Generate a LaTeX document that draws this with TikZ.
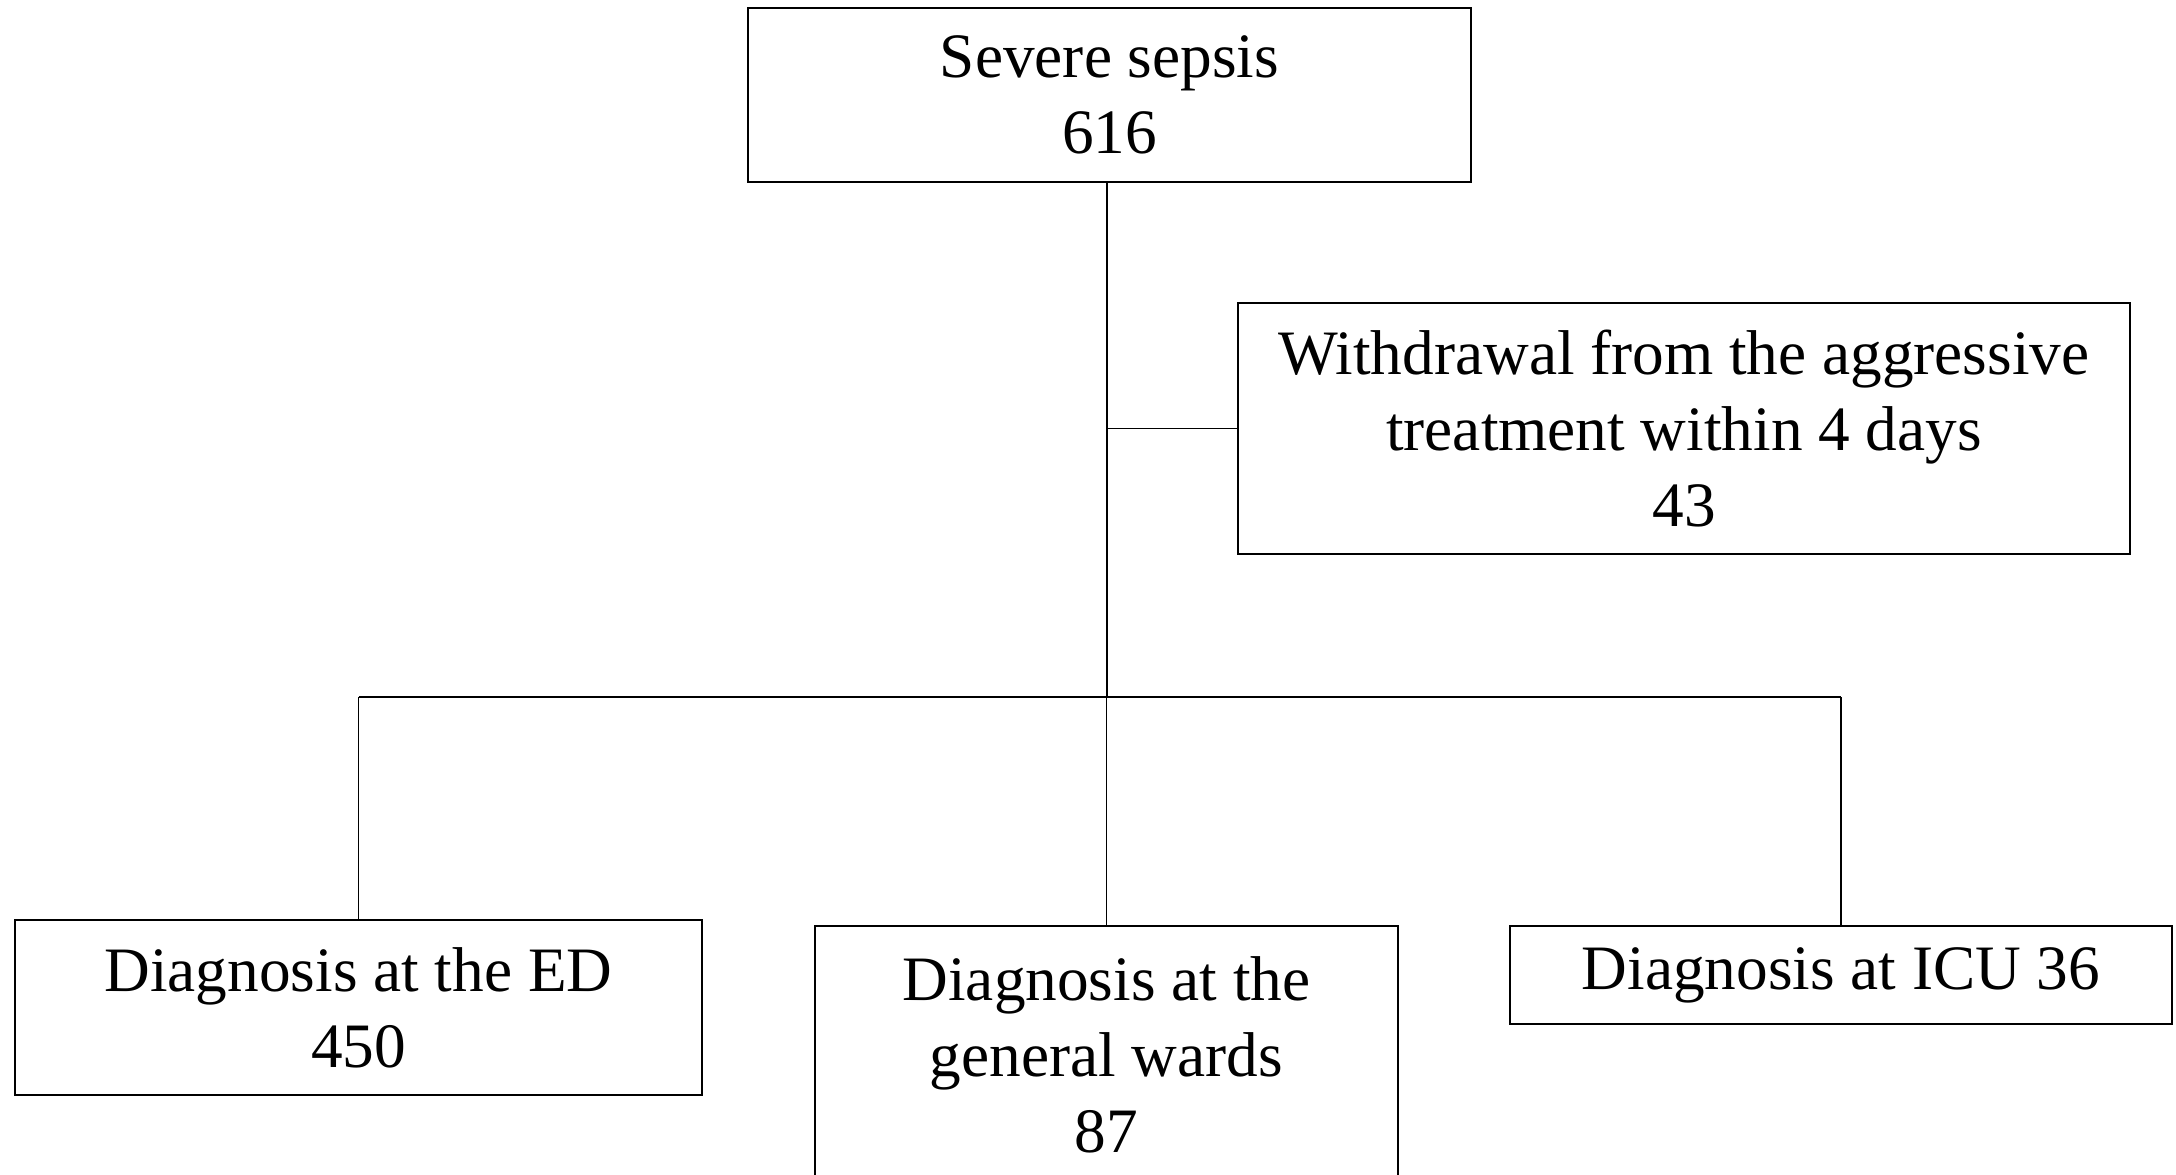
\documentclass[tikz,border=0pt]{standalone}
\usepackage{fontspec}
\setmainfont{Liberation Serif}
\usepackage{tikz}
\usetikzlibrary{positioning,calc}
\tikzset{
  stage/.style={draw=black, line width=0.6pt, inner sep=0pt, align=center,
                font=\fontsize{18}{21.7}\selectfont},
  link/.style={draw=black, line width=0.45pt}
}
\begin{document}
\begin{tikzpicture}
    \useasboundingbox (0,0) rectangle (21.76,-11.75);
    \node[stage,minimum width=7.23cm,minimum height=1.74cm] (sepsis) at (11.095,-0.95)
      {Severe sepsis\\616};
    \node[stage,minimum width=8.92cm,minimum height=2.51cm] (withdraw) at (16.84,-4.285)
      {Withdrawal from the aggressive\\treatment within 4 days\\43};
    \node[stage,minimum width=6.87cm,minimum height=1.75cm] (ed) at (3.585,-10.075)
      {Diagnosis at the ED\\450};
    \node[stage,minimum width=5.83cm,minimum height=2.58cm] (ward) at (11.065,-10.55)
      {Diagnosis at the\\general wards\\87};
    \node[stage,minimum width=6.62cm,minimum height=0.98cm] (icu) at (18.41,-9.75)
      {Diagnosis at ICU 36};
    \coordinate (split) at (11.07,-6.97);
    \coordinate (trunk) at (11.07,-1.82);
    % trunk and side branch
    \draw[link] (trunk) -- (split);
    \draw[link] (trunk |- withdraw.west) -- (withdraw.west);
    % bottom branches
    \draw[link] (ed.north |- split) -- (icu.north |- split);
    \draw[link] (ed.north |- split) -- (ed.north);
    \draw[link] (ward.north |- split) -- (ward.north);
    \draw[link] (icu.north |- split) -- (icu.north);
  \end{tikzpicture}
\end{document}
